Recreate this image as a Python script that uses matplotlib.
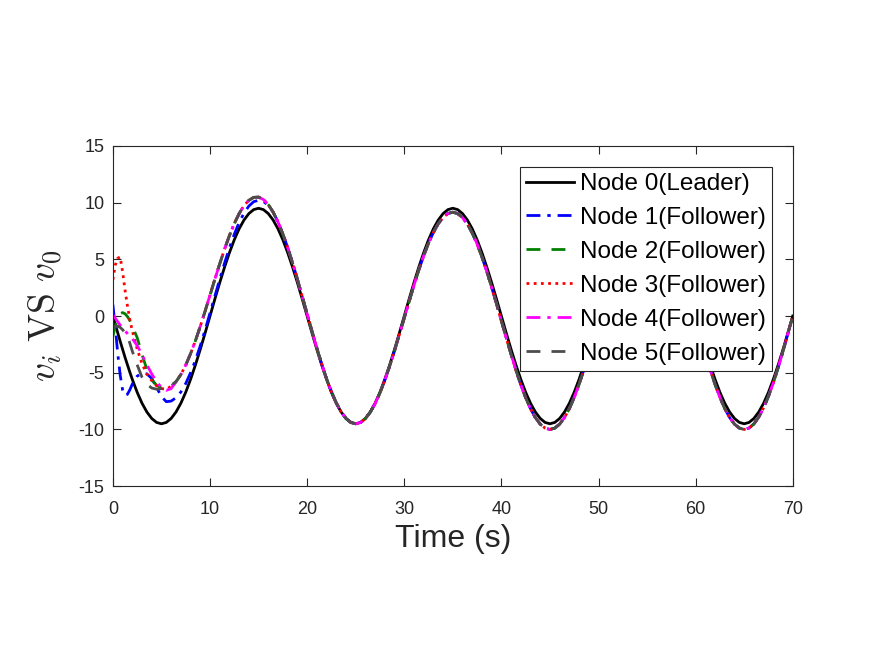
import matplotlib.pyplot as plt

plt.rcParams['font.family'] = ['Liberation Sans', 'DejaVu Sans']
plt.rcParams['mathtext.fontset'] = 'cm'
plt.rcParams['axes.unicode_minus'] = False

# time samples: fine during the transient, 0.5 s afterwards
time_head = [0, 0.25, 0.5, 0.75, 1, 1.25, 1.5, 1.75, 2, 2.5, 3, 3.5, 4, 4.5, 5, 5.5, 6]
time_tail = [6.5 + 0.5 * i for i in range(128)]

# leader v_0
leader_head = [0, -0.75, -1.49, -2.22, -2.94, -3.64, -4.31, -4.96, -5.58, -6.72, -7.69,
               -8.46, -9.03, -9.38, -9.5, -9.38, -9.03]
leader_tail = [-8.46, -7.69, -6.72, -5.58, -4.31, -2.94, -1.49,
               0, 1.49, 2.94, 4.31, 5.58, 6.72, 7.69, 8.46, 9.03, 9.38,
               9.5, 9.38, 9.03, 8.46, 7.69, 6.72, 5.58, 4.31, 2.94, 1.49,
               0, -1.49, -2.94, -4.31, -5.58, -6.72, -7.69, -8.46, -9.03, -9.38,
               -9.5, -9.38, -9.03, -8.46, -7.69, -6.72, -5.58, -4.31, -2.94, -1.49,
               0, 1.49, 2.94, 4.31, 5.58, 6.72, 7.69, 8.46, 9.03, 9.38,
               9.5, 9.38, 9.03, 8.46, 7.69, 6.72, 5.58, 4.31, 2.94, 1.49,
               0, -1.49, -2.94, -4.31, -5.58, -6.72, -7.69, -8.46, -9.03, -9.38,
               -9.5, -9.38, -9.03, -8.46, -7.69, -6.72, -5.58, -4.31, -2.94, -1.49,
               0, 1.49, 2.94, 4.31, 5.58, 6.72, 7.69, 8.46, 9.03, 9.38,
               9.5, 9.38, 9.03, 8.46, 7.69, 6.72, 5.58, 4.31, 2.94, 1.49,
               0, -1.49, -2.94, -4.31, -5.58, -6.72, -7.69, -8.46, -9.03, -9.38,
               -9.5, -9.38, -9.03, -8.46, -7.69, -6.72, -5.58, -4.31, -2.94, -1.49,
               0]

# common follower trajectory once the transients are gone (t = 6.5 ... 70)
follower_tail = [-5.79, -5.16, -4.33, -3.32, -2.18, -0.91, 0.44,
                 1.84, 3.24, 4.60, 5.90, 7.09, 8.15, 9.03, 9.74, 10.2, 10.46,
                 10.48, 10.27, 9.82, 9.16, 8.29, 7.24, 6.03, 4.68, 3.24, 1.73,
                 0.19, -1.34, -2.82, -4.23, -5.53, -6.68, -7.66, -8.45, -9.03, -9.38,
                 -9.5, -9.39, -9.04, -8.48, -7.72, -6.77, -5.66, -4.41, -3.06, -1.63,
                 -0.18, 1.28, 2.71, 4.06, 5.31, 6.42, 7.37, 8.13, 8.69, 9.04,
                 9.15, 9.03, 8.68, 8.11, 7.32, 6.35, 5.20, 3.92, 2.53, 1.07,
                 -0.43, -1.92, -3.38, -4.77, -6.06, -7.20, -8.17, -8.96, -9.53, -9.88,
                 -10.0, -9.88, -9.53, -8.95, -8.16, -7.17, -6.02, -4.73, -3.33, -1.86,
                 -0.35, 1.16, 2.63, 4.03, 5.32, 6.47, 7.46, 8.25, 8.83, 9.18,
                 9.3, 9.18, 8.83, 8.25, 7.46, 6.47, 5.32, 4.03, 2.63, 1.16,
                 -0.35, -1.86, -3.33, -4.73, -6.02, -7.17, -8.16, -8.95, -9.53, -9.88,
                 -10.0, -9.88, -9.51, -8.91, -8.09, -7.07, -5.88, -4.54, -3.09, -1.56,
                 0]

node1_head = [1.0, -1.0, -3.3, -5.2, -6.5, -7.0, -6.9, -6.5, -6.0, -5.3, -5.05, -5.1,
              -5.5, -6.3, -7.1, -7.55, -7.5]
node1_mid = [-7.2, -6.7, -5.95, -5.0, -3.91, -2.62, -1.22, 0.25, 1.75, 3.24,
             4.67, 6.01, 7.21, 8.25, 9.07, 9.69, 10.08, 10.2, 10.1, 9.75]
node2_head = [-1.8, -0.9, -0.2, 0.2, 0.3, 0.2, -0.05, -0.4, -0.9, -1.9, -3.4, -4.7,
              -5.6, -6.1, -6.35, -6.4, -6.2]
node3_head = [3.2, 4.5, 5.1, 5.2, 3.9, 2.3, 0.9, -0.35, -1.3, -2.9, -4.2, -5.1,
              -5.7, -6.15, -6.4, -6.45, -6.2]
node4_head = [0.1, -0.2, -0.5, -0.8, -1.05, -1.3, -1.55, -1.8, -2.0, -2.6, -3.4, -4.3,
              -5.1, -5.8, -6.3, -6.55, -6.4]
node5_head = [-1.1, -0.9, -0.9, -1.0, -1.2, -1.5, -1.8, -2.4, -3.1, -4.3, -5.4, -6.0,
              -6.35, -6.45, -6.4, -6.25, -6.1]

labels = ['Node 0(Leader)', 'Node 1(Follower)', 'Node 2(Follower)',
          'Node 3(Follower)', 'Node 4(Follower)', 'Node 5(Follower)']

t = time_head + time_tail
series = [
    leader_head + leader_tail,
    node1_head + node1_mid + follower_tail[len(node1_mid):],
    node2_head + follower_tail,
    node3_head + follower_tail,
    node4_head + follower_tail,
    node5_head + follower_tail,
]
colors = ['black', 'blue', (0, 0.5, 0), 'red', 'magenta', (0.3, 0.3, 0.3)]
styles = ['-', (0, (5, 2.5, 1.2, 2.5)), (0, (5, 4)), (0, (1, 1.6)),
          (0, (5, 2.5, 1.2, 2.5)), (0, (5, 4))]

fig = plt.figure(figsize=(8.75, 6.57), dpi=100)
ax = fig.add_axes([0.129, 0.260, 0.777, 0.518])

for y, c, ls, lab in zip(series, colors, styles, labels):
    ax.plot(t, y, color=c, linestyle=ls, linewidth=2, label=lab,
            solid_joinstyle='round', dash_joinstyle='round')

ax.set_xlim(0, 70)
ax.set_ylim(-15, 15)
ax.set_xticks(range(0, 71, 10))
ax.set_yticks(range(-15, 16, 5))
ax.tick_params(direction='in', top=True, right=True, labelsize=13,
               colors=(0.15, 0.15, 0.15), length=6)
ax.tick_params(axis='x', pad=11)
ax.tick_params(axis='y', pad=6)
for s in ax.spines.values():
    s.set_color((0.15, 0.15, 0.15))
    s.set_linewidth(0.8)

ax.set_xlabel('Time (s)', fontsize=23, color=(0.15, 0.15, 0.15), labelpad=4)
ax.set_ylabel(r'$v_i\ \mathrm{VS}\ v_0$', fontsize=27, color=(0.15, 0.15, 0.15),
              labelpad=10)

leg = ax.legend(loc='upper right', bbox_to_anchor=(0.969, 0.938), fontsize=17.5,
                fancybox=False, framealpha=1, edgecolor=(0.15, 0.15, 0.15),
                borderaxespad=0, handlelength=1.95, handletextpad=0.25,
                labelspacing=0.49, borderpad=0.25)
leg.get_frame().set_linewidth(0.8)

fig.savefig('out.png', dpi=100)
